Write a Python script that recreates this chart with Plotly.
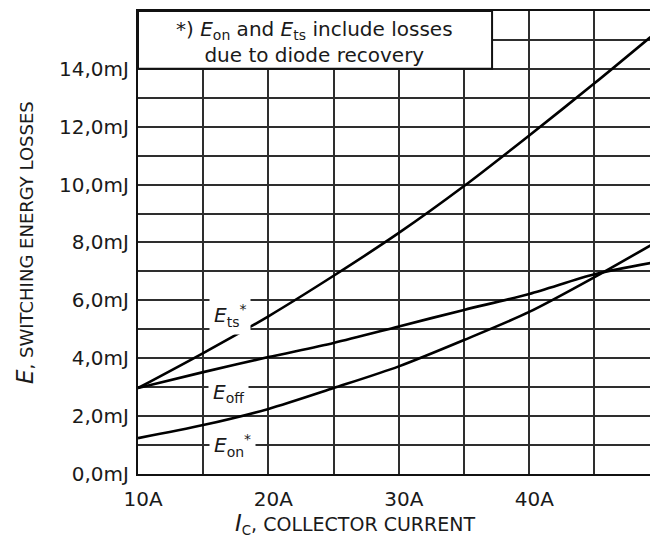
import plotly.graph_objects as go

# ---- data ----
collector_current = [10, 15, 20, 25, 30, 35, 40, 45, 49.3]          # A
e_ts  = [2.97, 4.18, 5.45, 6.85, 8.33, 9.95, 11.70, 13.50, 15.10]   # mJ
e_off = [2.97, 3.52, 4.04, 4.53, 5.10, 5.67, 6.22, 6.90, 7.29]      # mJ
e_on  = [1.24, 1.69, 2.25, 2.97, 3.72, 4.63, 5.60, 6.80, 7.90]      # mJ

x_range = [10, 49.26]
y_range = [0, 15.999]

FONT = "DejaVu Sans"
GRID = "#2e2e2e"

fig = go.Figure()
for ys in (e_ts, e_off, e_on):
    fig.add_trace(go.Scatter(
        x=collector_current, y=ys, mode="lines",
        line=dict(color="black", width=2.6, shape="spline", smoothing=0.8),
        showlegend=False, hoverinfo="skip"))

fig.update_layout(
    width=650, height=538,
    margin=dict(l=138, r=0, t=11, b=64, pad=0),
    paper_bgcolor="white", plot_bgcolor="white",
    separators=",.",
    font=dict(family=FONT, color="#1a1a1a", size=20),
)

fig.update_xaxes(
    range=x_range, tick0=10, dtick=10, ticksuffix="A",
    showgrid=True, gridcolor=GRID, gridwidth=1.6,
    minor=dict(dtick=5, tick0=10, showgrid=True, gridcolor=GRID, gridwidth=1.6),
    showline=True, linecolor="#111", linewidth=2.2, mirror=True,
    zeroline=False, ticks="", ticklabelstandoff=6, ticklabelshift=5,
    tickfont=dict(family=FONT, size=20, color="#1a1a1a"),
)
fig.update_yaxes(
    range=y_range, tick0=0, dtick=2, tickformat=".1f", ticksuffix="mJ",
    showgrid=True, gridcolor=GRID, gridwidth=1.6,
    minor=dict(dtick=1, tick0=0, showgrid=True, gridcolor=GRID, gridwidth=1.6),
    showline=True, linecolor="#111", linewidth=2.2, mirror=False,
    zeroline=False, ticks="", ticklabelstandoff=3,
    tickfont=dict(family=FONT, size=20, color="#1a1a1a"),
)

# note box
fig.add_shape(type="rect", xref="x", yref="y", x0=10, x1=37.15, y0=14, y1=16,
              fillcolor="white", line=dict(color="#111", width=2), layer="above")
fig.add_annotation(
    xref="paper", yref="paper", x=0.3457, y=0.933, xanchor="center", yanchor="middle",
    text="*) <i>E</i><sub>on</sub> and <i>E</i><sub>ts</sub> include losses<br>due to diode recovery",
    showarrow=False, font=dict(family=FONT, size=20, color="#1a1a1a"), align="center")

# curve labels
labels = [
    ("<i>E</i><sub>ts</sub><sup>*</sup>", 17.05, 5.46),
    ("<i>E</i><sub>off</sub>", 16.95, 2.80),
    ("<i>E</i><sub>on</sub><sup>*</sup>", 17.25, 0.97),
]
for txt, lx, ly in labels:
    fig.add_annotation(x=lx, y=ly, xref="x", yref="y", text=txt, showarrow=False,
                       xanchor="center", yanchor="middle", bgcolor="white", borderpad=4,
                       font=dict(family=FONT, size=20, color="#1a1a1a"))

# axis titles
fig.add_annotation(
    xref="paper", yref="paper", x=0.4238, y=-0.107, xanchor="center", yanchor="middle",
    text="<i><span style='font-size:23px'>I</span></i><sub>C</sub>, COLLECTOR CURRENT",
    showarrow=False, font=dict(family=FONT, size=19, color="#1a1a1a"))
fig.add_annotation(
    xref="paper", yref="paper", x=-0.2207, y=0.499, xanchor="center", yanchor="middle",
    textangle=-90,
    text="<i><span style='font-size:23px'>E</span></i>, SWITCHING ENERGY LOSSES",
    showarrow=False, font=dict(family=FONT, size=18, color="#1a1a1a"))

fig.write_html(
    "out.html",
    config={"displayModeBar": False},
    post_script="document.body.style.margin='0';document.body.style.overflow='hidden';",
)
